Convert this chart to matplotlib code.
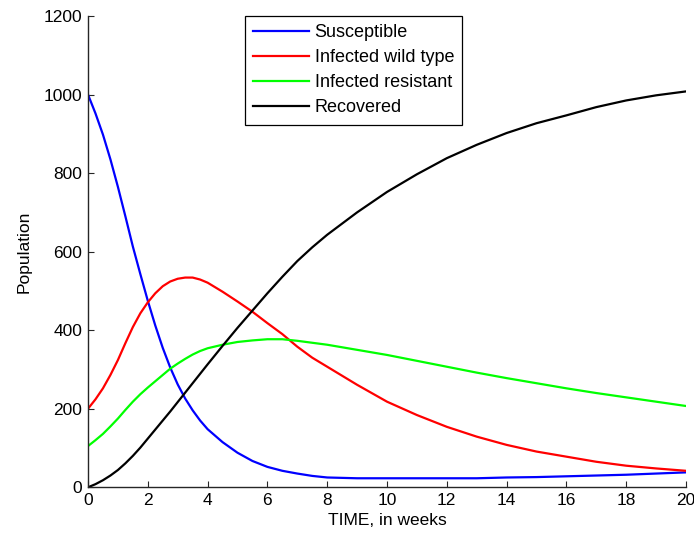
import matplotlib
matplotlib.use("Agg")
import matplotlib.pyplot as plt

plt.rcParams['font.family'] = ['Liberation Sans', 'DejaVu Sans']

# time grid (weeks)
time = [0, 0.25, 0.5, 0.75, 1, 1.25, 1.5, 1.75, 2, 2.25, 2.5, 2.75, 3, 3.25, 3.5, 3.75,
        4, 4.5, 5, 5.5, 6, 6.5, 7, 7.5, 8, 9, 10, 11, 12, 13, 14, 15, 16, 17, 18, 19, 20]

susceptible = [1000, 952, 898, 835, 765, 690, 613, 543, 475, 412, 355, 305, 262, 226, 196, 170,
               148, 115, 88, 67, 52, 42, 35, 29, 25, 23, 23, 23, 23, 23, 25, 26, 28, 30, 32, 35, 38]

infected_wild = [200, 224, 252, 286, 324, 367, 408, 443, 471, 494, 512, 524, 531, 534, 534, 529,
                 521, 498, 473, 447, 418, 390, 358, 330, 307, 261, 218, 184, 154, 129, 108, 91,
                 78, 65, 55, 48, 42]

infected_resistant = [105, 120, 136, 155, 175, 197, 218, 237, 254, 270, 286, 302, 315, 327, 338, 347,
                      354, 363, 370, 374, 377, 377, 373, 368, 363, 350, 337, 322, 307, 292, 278, 265,
                      252, 240, 229, 218, 207]

recovered = [0, 8, 18, 30, 44, 61, 80, 101, 124, 147, 170, 193, 217, 241, 265, 289,
             313, 360, 406, 450, 494, 536, 576, 611, 643, 700, 752, 797, 838, 872, 902, 927,
             947, 968, 985, 998, 1008]

labels = ["Susceptible", "Infected wild type", "Infected resistant", "Recovered"]
colors = ["#0000ff", "#ff0000", "#00ff00", "#000000"]
xticks = [0, 2, 4, 6, 8, 10, 12, 14, 16, 18, 20]
yticks = [0, 200, 400, 600, 800, 1000, 1200]

fig = plt.figure(figsize=(6.94, 5.38), dpi=100)
ax = fig.add_axes([88/694, 1 - 487.3/538, (686-88)/694, (487.3-16)/538])

for series, lab, col in zip([susceptible, infected_wild, infected_resistant, recovered], labels, colors):
    ax.plot(time, series, color=col, lw=1.6, label=lab)

ax.set_xlim(0, 20)
ax.set_ylim(0, 1200)
ax.set_xticks(xticks)
ax.set_yticks(yticks)
ax.tick_params(direction='in', length=4.5, width=0.8, labelsize=12.5, colors='#262626',
               labelcolor='black', pad=4)
for s in ['top', 'right']:
    ax.spines[s].set_visible(False)
for s in ['left', 'bottom']:
    ax.spines[s].set_color('#262626')
    ax.spines[s].set_linewidth(1.0)

ax.set_xlabel("TIME, in weeks", fontsize=12.5, labelpad=4)
ax.set_ylabel("Population", fontsize=12.5, labelpad=9)

leg = ax.legend(loc='upper left', bbox_to_anchor=(245/694, 1 - 16/538),
                bbox_transform=fig.transFigure, borderaxespad=0,
                fontsize=13, handlelength=3.1, handletextpad=0.3,
                labelspacing=0.45, borderpad=0.45, fancybox=False, framealpha=1)
leg.get_frame().set_edgecolor('black')
leg.get_frame().set_linewidth(0.9)
for line in leg.get_lines():
    line.set_linewidth(1.6)

fig.savefig("out.png", dpi=100)
